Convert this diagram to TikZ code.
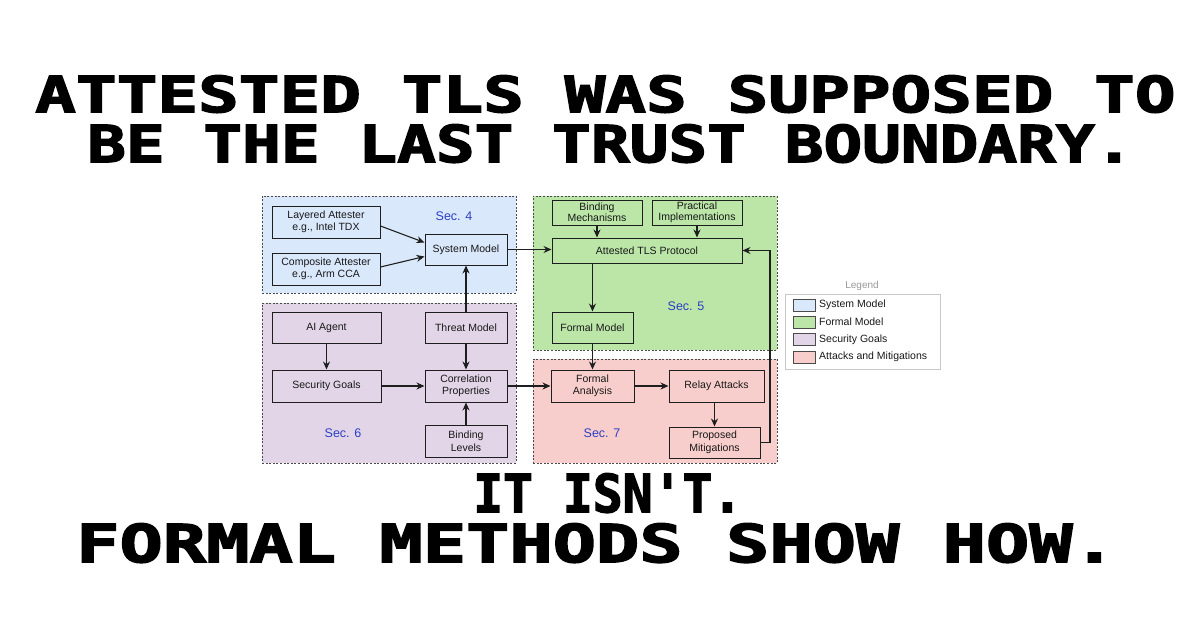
\documentclass[tikz,border=0pt]{standalone}
\usepackage{fontspec}
\usepackage{graphicx}
\setmainfont{Liberation Sans}
\newfontfamily\titlefont{DejaVu Sans Mono}[BoldFeatures={FakeBold=2.5}]
\usetikzlibrary{arrows.meta,calc}
\definecolor{blueF}{HTML}{DAE8FC}
\definecolor{greenF}{HTML}{BBE6A8}
\definecolor{purpleF}{HTML}{E1D5E7}
\definecolor{pinkF}{HTML}{F8CECC}
\definecolor{secBlue}{HTML}{2B3FC4}
\definecolor{edgeC}{HTML}{1E1E1E}
\definecolor{regionC}{HTML}{4A4A4A}
\definecolor{legendC}{HTML}{C8C8C8}
\newcommand\titleline[6]{%
  \node[tline] (#1) at (#2,#3) {\resizebox{#4pt}{#5pt}{#6}};
}
\begin{document}
\begin{tikzpicture}[x=1pt,y=-1pt,
  tline/.style={anchor=north west, inner sep=0pt, text=black, font=\titlefont\bfseries},
  region/.style={draw=regionC, line width=0.9pt, dash pattern=on 2pt off 1.6pt},
  box/.style={draw=edgeC, line width=1pt, align=center, inner sep=0pt,
    font=\fontsize{10.5}{12.5}\selectfont, text=black!90},
  sec/.style={font=\fontsize{12.5}{14}\selectfont, text=secBlue},
  arr/.style={draw=edgeC, line width=1.1pt, -{Stealth[length=8pt,width=7pt]}},
  swatch/.style={draw=edgeC!80, line width=0.8pt, minimum width=22pt, minimum height=12pt, inner sep=0pt},
  legtext/.style={anchor=west, inner sep=0pt, font=\fontsize{10.5}{12}\selectfont, text=black!90}
]
\useasboundingbox[fill=white] (0,0) rectangle (1200,630);

% ---------- title lines ----------
\titleline{t1}{35}{75}{1140}{37}{ATTESTED TLS WAS SUPPOSED TO}
\titleline{t2}{87}{124}{1046}{38}{BE THE LAST TRUST BOUNDARY.}
\titleline{t3}{473}{473}{269}{39}{IT ISN'T.}
\titleline{t4}{76}{523}{1039}{39}{FORMAL METHODS SHOW HOW.}

% ---------- regions ----------
\node[region, fill=blueF, minimum width=254pt, minimum height=97pt, inner sep=0pt] (r4) at (389,244.5) {};
\node[region, fill=greenF, minimum width=244pt, minimum height=154pt, inner sep=0pt] (r5) at (655,273) {};
\node[region, fill=purpleF, minimum width=254pt, minimum height=160pt, inner sep=0pt] (r6) at (389,383) {};
\node[region, fill=pinkF, minimum width=244pt, minimum height=104pt, inner sep=0pt] (r7) at (655,411) {};

\node[sec] (s4) at (454,216) {Sec. 4};
\node[sec] (s5) at (686,306) {Sec. 5};
\node[sec] (s6) at (343,433) {Sec. 6};
\node[sec] (s7) at (602,433) {Sec. 7};

% ---------- Sec. 4 boxes ----------
\node[box, fill=blueF, minimum width=108pt, minimum height=32pt] (la) at (326,222) {Layered Attester\\e.g., Intel TDX};
\node[box, fill=blueF, minimum width=108pt, minimum height=32pt] (ca) at (326,269) {Composite Attester\\e.g., Arm CCA};
\node[box, fill=blueF, minimum width=82pt, minimum height=31pt] (sm) at (466,249.5) {System Model};

% ---------- Sec. 5 boxes ----------
\node[box, fill=greenF, minimum width=90pt, minimum height=25pt] (bm) at (597,212.5) {Binding\\[-1.5pt]Mechanisms};
\node[box, fill=greenF, minimum width=90pt, minimum height=25pt] (pi) at (697,212.5) {Practical\\[-1.5pt]Implementations};
\node[box, fill=greenF, minimum width=190pt, minimum height=25pt] (atls) at (647,250.5) {Attested TLS Protocol};
\node[box, fill=greenF, minimum width=81pt, minimum height=31pt] (fm) at (592.5,327.5) {Formal Model};

% ---------- Sec. 6 boxes ----------
\node[box, fill=purpleF, minimum width=109pt, minimum height=31pt] (ai) at (326.5,327.5) {AI Agent};
\node[box, fill=purpleF, minimum width=82pt, minimum height=31pt] (tm) at (466,327.5) {Threat Model};
\node[box, fill=purpleF, minimum width=109pt, minimum height=32pt] (sg) at (326.5,386) {Security Goals};
\node[box, fill=purpleF, minimum width=82pt, minimum height=32pt] (cp) at (466,386) {Correlation\\Properties};
\node[box, fill=purpleF, minimum width=82pt, minimum height=32pt] (bl) at (466,441) {Binding\\Levels};

% ---------- Sec. 7 boxes ----------
\node[box, fill=pinkF, minimum width=83pt, minimum height=32pt] (fa) at (592.5,386) {Formal\\Analysis};
\node[box, fill=pinkF, minimum width=95pt, minimum height=32pt] (ra) at (716.5,386) {Relay Attacks};
\node[box, fill=pinkF, minimum width=91pt, minimum height=31pt] (pm) at (714.5,442.5) {Proposed\\Mitigations};

% ---------- connectors ----------
\draw[arr] ([yshift=-4pt]la.east) -- ([yshift=7pt]sm.west);
\draw[arr] ([yshift=2pt]ca.east) -- ([yshift=-7pt]sm.west);
\draw[arr] (sm.east) -- (sm.east -| atls.west);
\draw[arr] (bm.south) -- (bm.south |- atls.north);
\draw[arr] (pi.south) -- (pi.south |- atls.north);
\draw[arr] (fm.north |- atls.south) -- (fm.north);
\draw[arr] (fm.south) -- (fm.south |- fa.north);
\draw[arr] (tm.north) -- (tm.north |- sm.south);
\draw[arr] (ai.south) -- (ai.south |- sg.north);
\draw[arr] (tm.south) -- (tm.south |- cp.north);
\draw[arr] (sg.east) -- (sg.east -| cp.west);
\draw[arr] (bl.north) -- (bl.north |- cp.south);
\draw[arr] (cp.east) -- (cp.east -| fa.west);
\draw[arr] (fa.east) -- (fa.east -| ra.west);
\draw[arr] (pm.north |- ra.south) -- (pm.north);
\coordinate (loopc) at (770,442.5);
\draw[arr] (pm.east) -- (loopc) |- (atls.east);

% ---------- legend ----------
\node[font=\fontsize{10}{12}\selectfont, text=black!40] (legt) at (862,286) {Legend};
\node[draw=legendC, line width=0.8pt, minimum width=155pt, minimum height=75pt, inner sep=0pt] (legf) at (862.5,331.5) {};
\node[swatch, fill=blueF] (lw1) at (804,305) {};
\node[swatch, fill=greenF] (lw2) at (804,322) {};
\node[swatch, fill=purpleF] (lw3) at (804,339.5) {};
\node[swatch, fill=pinkF] (lw4) at (804,357) {};
\node[legtext] (lt1) at (819,305) {System Model};
\node[legtext] (lt2) at (819,322) {Formal Model};
\node[legtext] (lt3) at (819,339.5) {Security Goals};
\node[legtext] (lt4) at (819,357) {Attacks and Mitigations};
\end{tikzpicture}
\end{document}
